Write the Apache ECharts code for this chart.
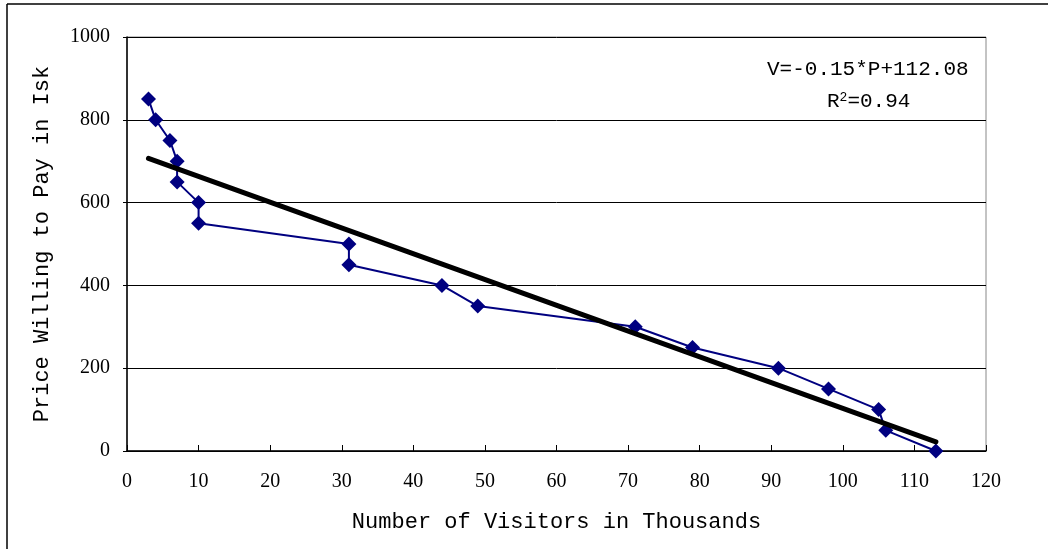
<!DOCTYPE html>
<html>
<head>
<meta charset="utf-8">
<script src="https://cdn.jsdelivr.net/npm/echarts@6/dist/echarts.min.js"></script>
<style>
html,body{margin:0;padding:0;background:#fff;}
#chart{width:1051px;height:549px;}
</style>
</head>
<body>
<div id="chart"></div>
<script>
// Observed data: visitors (thousands) vs price (Isk)
var visitors = [3, 4, 6, 7, 7, 10, 10, 31, 31, 44, 49, 71, 79, 91, 98, 105, 106, 113];
var prices   = [850, 800, 750, 700, 650, 600, 550, 500, 450, 400, 350, 300, 250, 200, 150, 100, 50, 0];
// Linear trendline endpoints as drawn
var trendX = [3, 113];
var trendY = [707, 22];
var xTicks = [0, 10, 20, 30, 40, 50, 60, 70, 80, 90, 100, 110, 120];
var yTicks = [0, 200, 400, 600, 800, 1000];
var equationText = 'V=-0.15*P+112.08';
var r2Text = '0.94';

var mono = '"Liberation Mono", monospace';
var serif = '"Liberation Serif", serif';

var chart = echarts.init(document.getElementById('chart'));
chart.setOption({
  animation: false,
  backgroundColor: '#fff',
  grid: {left: 127, right: 65, top: 37, bottom: 98, show: true, borderColor: '#888', borderWidth: 1},
  xAxis: {
    type: 'value', min: 0, max: 120, interval: 10,
    name: 'Number of Visitors in Thousands', nameLocation: 'middle', nameGap: 60,
    nameTextStyle: {fontFamily: mono, fontSize: 22, color: '#000'},
    axisLine: {show: true, onZero: false, lineStyle: {color: '#000', width: 1.5}},
    axisTick: {show: true, inside: true, length: 6, lineStyle: {color: '#000'}},
    axisLabel: {fontFamily: serif, fontSize: 20, color: '#000', margin: 21,
      formatter: function (v) { return xTicks.indexOf(v) >= 0 ? String(v) : ''; }},
    splitLine: {show: false}
  },
  yAxis: {
    type: 'value', min: 0, max: 1000, interval: 200,
    name: 'Price Willing to Pay in Isk', nameLocation: 'middle', nameGap: 74,
    nameTextStyle: {fontFamily: mono, fontSize: 22, color: '#000'},
    axisLine: {show: true, lineStyle: {color: '#000', width: 1.5}},
    axisTick: {show: true, inside: false, length: 4, lineStyle: {color: '#000'}},
    axisLabel: {fontFamily: serif, fontSize: 20, color: '#000', margin: 17,
      formatter: function (v) { return yTicks.indexOf(v) >= 0 ? String(v) : ''; }},
    splitLine: {show: true, lineStyle: {color: '#000', width: 1}}
  },
  series: [
    {
      type: 'line',
      data: visitors.map(function (x, i) { return [x, prices[i]]; }),
      symbol: 'diamond', symbolSize: 15,
      itemStyle: {color: '#000080'},
      lineStyle: {color: '#000080', width: 2},
      z: 3
    },
    {
      type: 'line',
      data: trendX.map(function (x, i) { return [x, trendY[i]]; }),
      symbol: 'none',
      lineStyle: {color: '#000', width: 5, cap: 'round'},
      z: 4
    }
  ],
  graphic: [
    {type: 'line', shape: {x1: 7, y1: 4, x2: 1048, y2: 4}, style: {stroke: '#000', lineWidth: 1.5}},
    {type: 'line', shape: {x1: 7, y1: 4, x2: 7, y2: 549}, style: {stroke: '#000', lineWidth: 1.5}},
    {type: 'text', left: 767, top: 59, style: {text: equationText, font: '21px ' + mono, fill: '#000'}},
    {type: 'text', left: 827, top: 91, style: {
      text: '{b|R}{s|2}{b|=' + r2Text + '}',
      rich: {
        b: {fontFamily: mono, fontSize: 21, color: '#000', verticalAlign: 'bottom'},
        s: {fontFamily: mono, fontSize: 13, color: '#000', verticalAlign: 'top', padding: [0, 0, 8, 0]}
      }
    }}
  ]
});
</script>
</body>
</html>
